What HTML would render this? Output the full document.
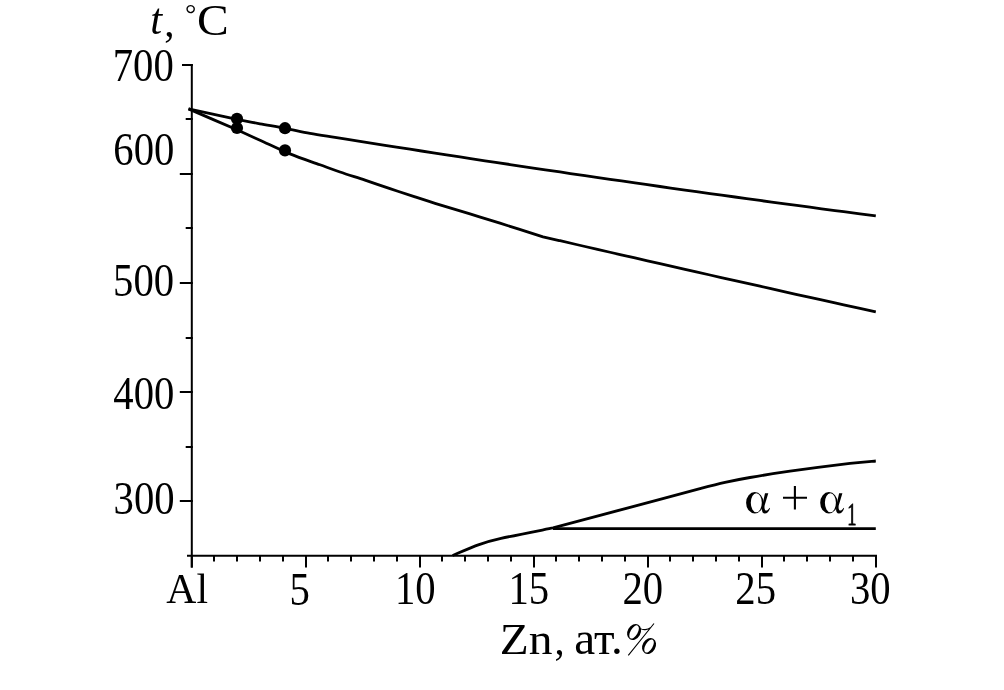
<!DOCTYPE html>
<html><head><meta charset="utf-8"><style>
html,body{margin:0;padding:0;background:#fff;}
body{width:1004px;height:690px;overflow:hidden;position:relative;}
svg{position:absolute;left:0;top:0;will-change:transform;}
text{font-family:"Liberation Serif",serif;fill:#000;}
</style></head><body>
<svg width="1004" height="690" viewBox="0 0 1004 690">
<g stroke="#000" stroke-width="2" fill="none">
<line x1="191.8" y1="64" x2="191.8" y2="567.6"/>
<line x1="187" y1="555.8" x2="877" y2="555.8"/>
<line x1="179.8" y1="501" x2="192.8" y2="501"/>
<line x1="179.8" y1="392" x2="192.8" y2="392"/>
<line x1="179.8" y1="283" x2="192.8" y2="283"/>
<line x1="179.8" y1="174" x2="192.8" y2="174"/>
<line x1="182" y1="65" x2="192.8" y2="65"/>
<line x1="185.7" y1="447" x2="192.8" y2="447"/>
<line x1="185.7" y1="338" x2="192.8" y2="338"/>
<line x1="185.7" y1="228" x2="192.8" y2="228"/>
<line x1="185.7" y1="119" x2="192.8" y2="119"/>
<line x1="191.8" y1="555.8" x2="191.8" y2="567.60"/>
<line x1="214" y1="555.8" x2="214" y2="561.60"/>
<line x1="237" y1="555.8" x2="237" y2="561.60"/>
<line x1="260" y1="555.8" x2="260" y2="561.60"/>
<line x1="283" y1="555.8" x2="283" y2="561.60"/>
<line x1="306" y1="555.8" x2="306" y2="567.60"/>
<line x1="328" y1="555.8" x2="328" y2="561.60"/>
<line x1="351" y1="555.8" x2="351" y2="561.60"/>
<line x1="374" y1="555.8" x2="374" y2="561.60"/>
<line x1="397" y1="555.8" x2="397" y2="561.60"/>
<line x1="420" y1="555.8" x2="420" y2="567.60"/>
<line x1="442" y1="555.8" x2="442" y2="561.60"/>
<line x1="465" y1="555.8" x2="465" y2="561.60"/>
<line x1="488" y1="555.8" x2="488" y2="561.60"/>
<line x1="511" y1="555.8" x2="511" y2="561.60"/>
<line x1="534" y1="555.8" x2="534" y2="567.60"/>
<line x1="556" y1="555.8" x2="556" y2="561.60"/>
<line x1="579" y1="555.8" x2="579" y2="561.60"/>
<line x1="602" y1="555.8" x2="602" y2="561.60"/>
<line x1="625" y1="555.8" x2="625" y2="561.60"/>
<line x1="648" y1="555.8" x2="648" y2="567.60"/>
<line x1="670" y1="555.8" x2="670" y2="561.60"/>
<line x1="693" y1="555.8" x2="693" y2="561.60"/>
<line x1="716" y1="555.8" x2="716" y2="561.60"/>
<line x1="739" y1="555.8" x2="739" y2="561.60"/>
<line x1="762" y1="555.8" x2="762" y2="567.60"/>
<line x1="784" y1="555.8" x2="784" y2="561.60"/>
<line x1="807" y1="555.8" x2="807" y2="561.60"/>
<line x1="830" y1="555.8" x2="830" y2="561.60"/>
<line x1="853" y1="555.8" x2="853" y2="561.60"/>
<line x1="876" y1="555.8" x2="876" y2="567.60"/>
</g>
<g stroke="#000" stroke-width="2.8" fill="none" stroke-linejoin="round">
<path d="M188.50,108.90 C196.58,110.65 228.92,117.65 237.00,119.40 C240.83,120.13 252.00,122.32 260.00,123.80 C268.00,125.28 276.67,126.71 285.00,128.30 C293.33,129.89 301.67,131.84 310.00,133.35 C318.33,134.87 326.67,136.04 335.00,137.37 C343.33,138.71 351.67,140.03 360.00,141.36 C368.33,142.68 376.67,143.99 385.00,145.31 C393.33,146.62 401.67,147.92 410.00,149.22 C418.33,150.52 426.67,151.81 435.00,153.10 C443.33,154.39 451.67,155.67 460.00,156.95 C468.33,158.23 476.67,159.50 485.00,160.76 C493.33,162.03 501.67,163.29 510.00,164.54 C518.33,165.79 526.67,167.04 535.00,168.28 C543.33,169.53 551.67,170.76 560.00,171.99 C568.33,173.23 576.67,174.45 585.00,175.67 C593.33,176.89 601.67,178.10 610.00,179.31 C618.33,180.52 626.67,181.72 635.00,182.92 C643.33,184.12 651.67,185.31 660.00,186.49 C668.33,187.68 676.67,188.86 685.00,190.03 C693.33,191.21 701.67,192.37 710.00,193.54 C718.33,194.70 726.67,195.86 735.00,197.01 C743.33,198.16 751.67,199.30 760.00,200.44 C768.33,201.58 776.67,202.72 785.00,203.85 C793.33,204.97 801.67,206.10 810.00,207.21 C818.33,208.33 826.67,209.44 835.00,210.55 C843.33,211.65 853.20,212.95 860.00,213.85 C866.80,214.74 873.17,215.57 875.80,215.92"/>
<path d="M188.50,108.90 C196.58,112.38 228.92,126.32 237.00,129.80 C240.83,131.53 251.17,136.18 260.00,140.20 C268.83,144.22 280.00,149.80 290.00,153.90 C300.00,158.00 311.67,161.78 320.00,164.80 C328.33,167.82 332.50,169.43 340.00,172.00 C347.50,174.57 356.67,177.43 365.00,180.20 C373.33,182.97 381.67,185.82 390.00,188.60 C398.33,191.38 406.67,194.18 415.00,196.90 C423.33,199.62 430.83,202.07 440.00,204.90 C449.17,207.73 460.00,210.85 470.00,213.90 C480.00,216.95 487.83,219.38 500.00,223.20 C512.17,227.02 535.83,234.53 543.00,236.80 C545.83,237.45 553.00,239.10 560.00,240.72 C567.00,242.33 576.67,244.57 585.00,246.49 C593.33,248.41 601.67,250.32 610.00,252.24 C618.33,254.15 626.67,256.06 635.00,257.96 C643.33,259.86 651.67,261.76 660.00,263.66 C668.33,265.56 676.67,267.45 685.00,269.34 C693.33,271.23 701.67,273.12 710.00,275.00 C718.33,276.88 726.67,278.76 735.00,280.63 C743.33,282.50 751.67,284.37 760.00,286.24 C768.33,288.11 776.67,289.97 785.00,291.83 C793.33,293.69 801.67,295.54 810.00,297.39 C818.33,299.25 826.67,301.09 835.00,302.94 C843.33,304.78 853.20,306.96 860.00,308.46 C866.80,309.96 873.17,311.35 875.80,311.93"/>
<path d="M452.60,555.50 C457.00,553.68 470.93,547.45 479.00,544.60 C487.07,541.75 488.67,541.18 501.00,538.40 C513.33,535.62 544.33,529.65 553.00,527.90 C560.83,525.80 582.17,520.07 600.00,515.30 C617.83,510.53 643.33,503.75 660.00,499.30 C676.67,494.85 689.17,491.42 700.00,488.60 C710.83,485.78 716.67,484.25 725.00,482.40 C733.33,480.55 739.17,479.37 750.00,477.50 C760.83,475.63 773.33,473.55 790.00,471.20 C806.67,468.85 835.70,465.10 850.00,463.40 C864.30,461.70 871.50,461.40 875.80,461.00"/>
<line x1="553" y1="528.6" x2="875.8" y2="528.6"/>
</g>
<g fill="#000">
<circle cx="237" cy="118.8" r="6.1"/>
<circle cx="237" cy="128.0" r="6.1"/>
<circle cx="285" cy="128.2" r="6.1"/>
<circle cx="285" cy="150.4" r="6.1"/>
</g>
<g transform="translate(112.70,81.32) scale(0.9250,1.0450)"><text x="0" y="0" font-size="44" >700</text></g>
<g transform="translate(113.31,165.02) scale(0.9250,1.0450)"><text x="0" y="0" font-size="44" >600</text></g>
<g transform="translate(113.08,295.52) scale(0.9250,1.0450)"><text x="0" y="0" font-size="44" >500</text></g>
<g transform="translate(113.34,408.72) scale(0.9250,1.0450)"><text x="0" y="0" font-size="44" >400</text></g>
<g transform="translate(113.56,513.52) scale(0.9250,1.0450)"><text x="0" y="0" font-size="44" >300</text></g>
<g transform="translate(166.33,602.70) scale(0.9459,0.9672)"><text x="0" y="0" font-size="44" >Al</text></g>
<g transform="translate(289.43,604.66) scale(0.9250,1.0450)"><text x="0" y="0" font-size="44" >5</text></g>
<g transform="translate(394.88,604.22) scale(0.9250,1.0450)"><text x="0" y="0" font-size="44" >10</text></g>
<g transform="translate(508.52,604.39) scale(0.9250,1.0450)"><text x="0" y="0" font-size="44" >15</text></g>
<g transform="translate(622.53,604.32) scale(0.9250,1.0450)"><text x="0" y="0" font-size="44" >20</text></g>
<g transform="translate(735.33,604.19) scale(0.9250,1.0450)"><text x="0" y="0" font-size="44" >25</text></g>
<g transform="translate(849.88,604.32) scale(0.9250,1.0450)"><text x="0" y="0" font-size="44" >30</text></g>
<g transform="translate(499.64,654.30) scale(1.0789,1.0191)"><text x="0" y="0" font-size="44" >Zn</text></g>
<g transform="translate(554.38,654.32) scale(0.9231,0.9600)"><text x="0" y="0" font-size="44" >,</text></g>
<g transform="translate(574.29,653.98) scale(1.0707,1.0381)"><text x="0" y="0" font-size="44" >ат.</text></g>
<g transform="translate(150.15,33.99) scale(0.9727,1.0139)"><text x="0" y="0" font-size="44" font-style="italic">t</text></g>
<g transform="translate(164.36,35.58) scale(0.9385,0.9511)"><text x="0" y="0" font-size="44" >,</text></g>
<g transform="translate(185.01,23.08) scale(0.6444,0.6113)"><text x="0" y="0" font-size="44" >°</text></g>
<g transform="translate(196.91,35.29) scale(1.0812,1.0237)"><text x="0" y="0" font-size="44" >C</text></g>
<g transform="translate(847.13,524.50) scale(0.4194,0.7207)"><text vector-effect="non-scaling-stroke" stroke="#000" stroke-width="0.7" x="0" y="0" font-size="44" >1</text></g>
<g fill="#000"><path fill-rule="evenodd" d="M746.10,502.75 a8.7,10.65 0 1,0 17.4,0 a8.7,10.65 0 1,0 -17.4,0 Z M750.80,502.75 a5.5,9.6 0 1,0 11,0 a5.5,9.6 0 1,0 -11,0 Z"/><path d="M765.00,493.2 L768.30,493.2 L764.60,505.5 C764.20,508 764.60,510.6 766.20,510.6 C767.40,510.6 768.60,509.2 769.60,507.8 L770.00,508.4 C769.00,511.4 767.00,513.6 764.80,513.6 C762.60,513.6 761.80,511.2 762.00,508 L762.40,505 Z"/><path fill-rule="evenodd" d="M820.20,502.75 a8.7,10.65 0 1,0 17.4,0 a8.7,10.65 0 1,0 -17.4,0 Z M824.90,502.75 a5.5,9.6 0 1,0 11,0 a5.5,9.6 0 1,0 -11,0 Z"/><path d="M839.10,493.2 L842.40,493.2 L838.70,505.5 C838.30,508 838.70,510.6 840.30,510.6 C841.50,510.6 842.70,509.2 843.70,507.8 L844.10,508.4 C843.10,511.4 841.10,513.6 838.90,513.6 C836.70,513.6 835.90,511.2 836.10,508 L836.50,505 Z"/><path stroke="#000" stroke-width="2.1" fill="none" d="M783,497.8 H807 M794.9,485.9 V509.6"/><g transform="rotate(-60 634.1 631.95)"><path fill-rule="evenodd" d="M625.7,631.95 a8.4,6.5 0 1,0 16.8,0 a8.4,6.5 0 1,0 -16.8,0 Z M626.8000000000001,631.95 a7.3,3.6 0 1,0 14.6,0 a7.3,3.6 0 1,0 -14.6,0 Z"/></g><g transform="rotate(-60 649.05 646.0)"><path fill-rule="evenodd" d="M640.65,646.0 a8.4,6.5 0 1,0 16.8,0 a8.4,6.5 0 1,0 -16.8,0 Z M641.75,646.0 a7.3,3.6 0 1,0 14.6,0 a7.3,3.6 0 1,0 -14.6,0 Z"/></g><path stroke="#000" stroke-width="1.1" fill="none" d="M628.3,655.3 L654,623.5 M640.3,628.6 C643,630.2 647.5,630 650.5,627.6"/></g>
</svg>
</body></html>
